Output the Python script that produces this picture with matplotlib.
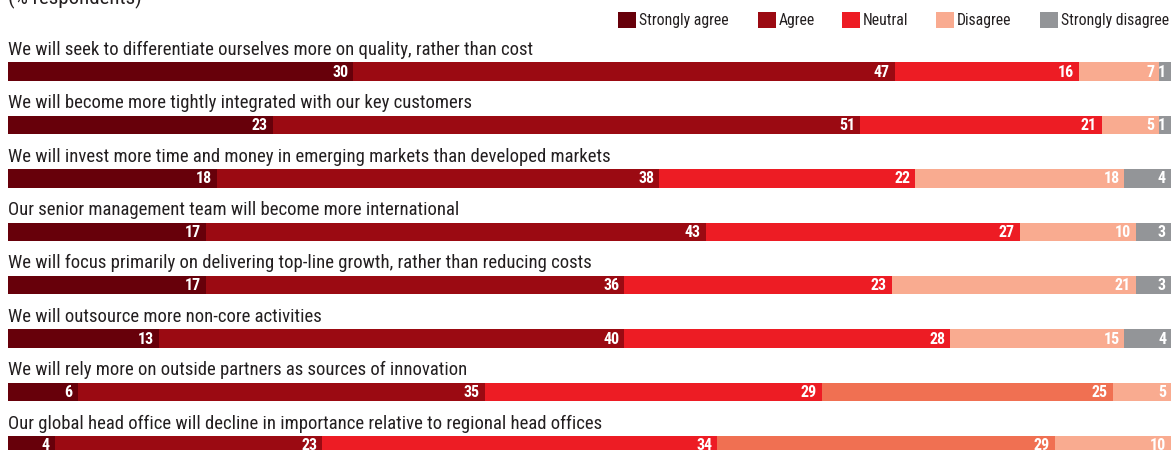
import numpy as np
import matplotlib
matplotlib.use("Agg")
import matplotlib.pyplot as plt
from matplotlib import font_manager
from matplotlib.patches import Rectangle

# Survey statements (top to bottom) and answers, % respondents
statements = [
    "We will seek to differentiate ourselves more on quality, rather than cost",
    "We will become more tightly integrated with our key customers",
    "We will invest more time and money in emerging markets than developed markets",
    "Our senior management team will become more international",
    "We will focus primarily on delivering top-line growth, rather than reducing costs",
    "We will outsource more non-core activities",
    "We will rely more on outside partners as sources of innovation",
    "Our global head office will decline in importance relative to regional head offices",
]
categories = ["Strongly agree", "Agree", "Neutral", "Disagree", "Strongly disagree"]
strongly_agree = [30, 23, 18, 17, 17, 13, 6, 4]
agree = [47, 51, 38, 43, 36, 40, 35, 23]
neutral = [16, 21, 22, 27, 23, 28, 29, 34]
disagree = [7, 5, 18, 10, 21, 15, 25, 29]
strongly_disagree = [1, 1, 4, 3, 3, 4, 5, 10]

colors = ["#67000a", "#9b0a12", "#ed1c24", "#f9ab90", "#939598"]
# the last two rows use a different shading for the last two answers
alt_colors = ["#67000a", "#9b0a12", "#ed1c24", "#f07052", "#f9ab90"]
alt_rows = {6, 7}

available = {f.name for f in font_manager.fontManager.ttflist}
family = next(f for f in ["Liberation Sans Narrow", "Roboto Condensed", "Liberation Sans", "DejaVu Sans"]
              if f in available)
plt.rcParams["font.family"] = [family, "DejaVu Sans"]

W, H = 1171, 450
fig = plt.figure(figsize=(W / 100, H / 100), dpi=100)
ax = fig.add_axes([0, 0, 1, 1])
x0, x1 = 8, 1171
ax.set_xlim(0, W)
ax.set_ylim(H, 0)
ax.axis("off")

row_top0, row_step, bar_h = 62.3, 53.4, 18.5
text_col = "#231f20"

data = np.array([strongly_agree, agree, neutral, disagree, strongly_disagree]).T
for i, (label, vals) in enumerate(zip(statements, data)):
    top = row_top0 + i * row_step
    ax.text(x0, top - 7.5, label, fontsize=13.5, color=text_col, va="baseline", ha="left")
    total = vals.sum()
    left = x0
    cols = alt_colors if i in alt_rows else colors
    for v, c in zip(vals, cols):
        w = v / total * (x1 - x0)
        ax.add_patch(Rectangle((left, top), w, bar_h, facecolor=c, edgecolor="none"))
        ax.text(left + w - 5, top + bar_h / 2 + 0.5, str(v), fontsize=11.5, fontweight="bold",
                color="white", ha="right", va="center")
        left += w

ax.text(x0, 4.5, "(% respondents)", fontsize=15, color=text_col, va="baseline", ha="left")

# legend along the top right
leg_x = [618, 758, 842, 936, 1040]
for lx, name, c in zip(leg_x, categories, colors):
    ax.add_patch(Rectangle((lx, 12), 18, 16, facecolor=c, edgecolor="none"))
    ax.text(lx + 21, 20.5, name, fontsize=11.3, color=text_col, va="center", ha="left")

fig.savefig("out.png", dpi=100)
